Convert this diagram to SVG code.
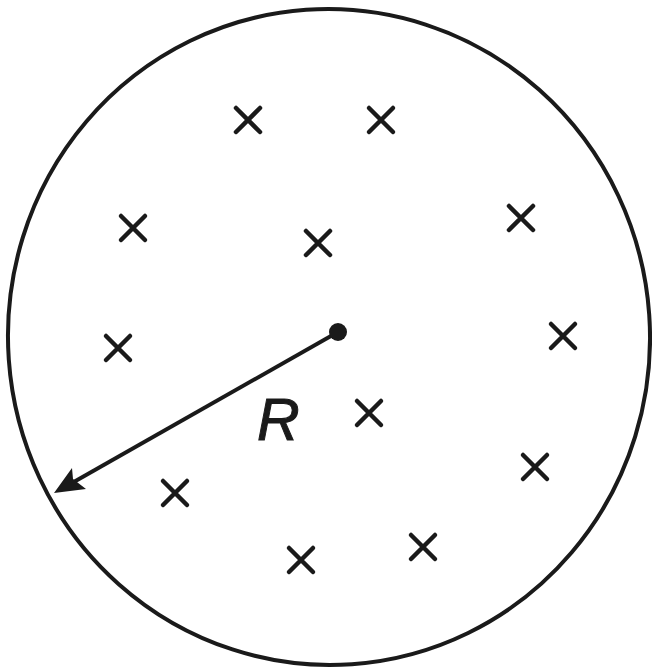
<svg xmlns="http://www.w3.org/2000/svg" width="652" height="669" viewBox="0 0 652 669">
<style>
.cx{stroke:#1a1a1a;stroke-width:4.5;stroke-linecap:round;fill:none}
.ln{stroke:#1a1a1a;stroke-width:4;fill:none}
</style>
<defs>
<path id="x" class="cx" d="M-12,-12L12,12M12,-12L-12,12"/>
</defs>
<rect width="652" height="669" fill="#fff"/>
<g id="boundary">
<ellipse class="ln" cx="0" cy="0" rx="321" ry="328" transform="translate(329,337) rotate(-4)"/>
</g>
<g id="field">
<use href="#x" x="248" y="120"/>
<use href="#x" x="381" y="120"/>
<use href="#x" x="133" y="228"/>
<use href="#x" x="318" y="243"/>
<use href="#x" x="521" y="218"/>
<use href="#x" x="118" y="348"/>
<use href="#x" x="563" y="336"/>
<use href="#x" x="369" y="413"/>
<use href="#x" x="535" y="467"/>
<use href="#x" x="175" y="493"/>
<use href="#x" x="301" y="560"/>
<use href="#x" x="423" y="547"/>
</g>
<g id="connectors">
<line class="ln" x1="338" y1="332" x2="72" y2="483"/>
<path d="M54,493 L72,468 L73,479 L86,489 Z" fill="#1a1a1a"/>
</g>
<g id="center">
<circle cx="338" cy="332" r="9" fill="#1a1a1a"/>
</g>
<g id="label">
<text x="257" y="440" font-family="Liberation Sans, Arial, sans-serif" font-style="italic" font-size="59" fill="#1a1a1a" stroke="#1a1a1a" stroke-width="1">R</text>
</g>
</svg>
